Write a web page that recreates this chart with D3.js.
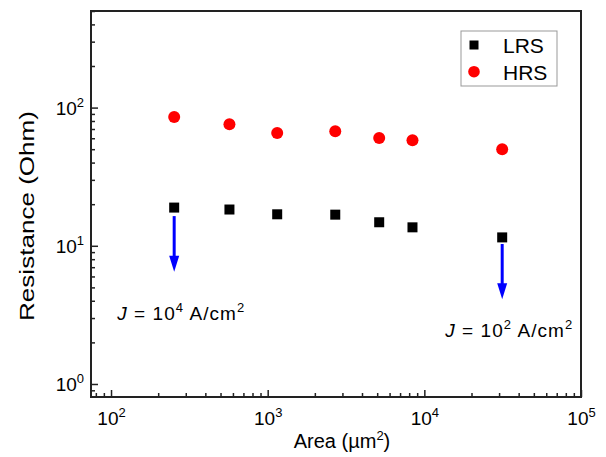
<!DOCTYPE html>
<html>
<head>
<meta charset="utf-8">
<script src="https://cdn.jsdelivr.net/npm/d3@7"></script>
<style>
  body { margin: 0; background: #fff; }
  svg { display: block; font-family: "Liberation Sans", Arial, sans-serif; }
</style>
</head>
<body>
<script>
// data
const areas = [253, 570, 1150, 2700, 5150, 8400, 31400];
const lrs = [18.9, 18.3, 16.9, 16.8, 14.8, 13.6, 11.5];
const hrs = [85.5, 75.7, 65.5, 67.4, 60.3, 58.0, 50.0];
const seriesNames = ["LRS", "HRS"];
const xMajorTicks = [1e2, 1e3, 1e4, 1e5];
const yMajorTicks = [1e0, 1e1, 1e2];
// current density annotations: arrow from/to resistance at a given area
const arrows = [
  { area: 253, from: 16.4, to: 6.5, label: "4" },
  { area: 31400, from: 10.3, to: 4.1, label: "2" }
];

const width = 606, height = 457;
const margin = { top: 11, right: 25, bottom: 60, left: 91 };
const innerW = width - margin.left - margin.right;
const innerH = height - margin.top - margin.bottom;

const svg = d3.select("body").append("svg")
  .attr("width", width)
  .attr("height", height);

const g = svg.append("g")
  .attr("transform", `translate(${margin.left},${margin.top})`);

const x = d3.scaleLog().domain([74.5, 1e5]).range([0, innerW]);
const y = d3.scaleLog().domain([0.805, 500]).range([innerH, 0]);

function minorTicks(lo, hi) {
  const out = [];
  for (let p = lo; p < hi; p++) {
    for (let m = 2; m <= 9; m++) out.push(m * Math.pow(10, p));
  }
  return out;
}
const xMinor = minorTicks(1, 5).filter(v => v >= x.domain()[0] && v <= x.domain()[1]);
const yMinor = minorTicks(-1, 3).filter(v => v >= y.domain()[0] && v <= y.domain()[1]);

// minor ticks
g.append("g")
  .attr("transform", `translate(0,${innerH})`)
  .call(d3.axisBottom(x).tickValues(xMinor).tickSize(-4).tickFormat(""))
  .call(s => s.select(".domain").remove());
g.append("g")
  .call(d3.axisLeft(y).tickValues(yMinor).tickSize(-4).tickFormat(""))
  .call(s => s.select(".domain").remove());

// major ticks with 10^n labels
const xAxis = g.append("g")
  .attr("transform", `translate(0,${innerH})`)
  .call(d3.axisBottom(x).tickValues(xMajorTicks).tickSize(-7).tickFormat(""))
  .call(s => s.select(".domain").remove());
const yAxis = g.append("g")
  .call(d3.axisLeft(y).tickValues(yMajorTicks).tickSize(-7).tickPadding(7).tickFormat(""))
  .call(s => s.select(".domain").remove());

function powLabel(sel) {
  sel.each(function (d) {
    const t = d3.select(this);
    t.text(null);
    t.append("tspan").text("10");
    t.append("tspan").attr("dy", -8).attr("font-size", 13).text(Math.round(Math.log10(d)));
  });
}
xAxis.selectAll(".tick text")
  .attr("font-size", 19).attr("fill", "#000").attr("font-family", null)
  .attr("dy", 0).attr("y", 28)
  .call(powLabel);
yAxis.selectAll(".tick text")
  .attr("font-size", 19).attr("fill", "#000").attr("font-family", null)
  .attr("dy", 7)
  .call(powLabel);

g.selectAll(".tick line").attr("stroke", "#222").attr("stroke-width", 1.5);

// frame
g.append("rect")
  .attr("width", innerW)
  .attr("height", innerH)
  .attr("fill", "none")
  .attr("stroke", "#222")
  .attr("stroke-width", 2);

// arrows
g.selectAll(".arrow")
  .data(arrows)
  .enter().append("line")
  .attr("class", "arrow")
  .attr("x1", d => x(d.area))
  .attr("x2", d => x(d.area))
  .attr("y1", d => y(d.from))
  .attr("y2", d => y(d.to) - 14)
  .attr("stroke", "#0000ff")
  .attr("stroke-width", 3);
g.selectAll(".arrowhead")
  .data(arrows)
  .enter().append("path")
  .attr("class", "arrowhead")
  .attr("d", d => `M${x(d.area) - 5},${y(d.to) - 16} L${x(d.area) + 5},${y(d.to) - 16} L${x(d.area)},${y(d.to)} Z`)
  .attr("fill", "#0000ff");

// annotation texts
const notePos = [{ dx: -57, dy: 48 }, { dx: -57, dy: 38 }];
g.selectAll(".note")
  .data(arrows)
  .enter().append("text")
  .attr("class", "note")
  .attr("x", (d, i) => x(d.area) + notePos[i].dx)
  .attr("y", (d, i) => y(d.to) + notePos[i].dy)
  .attr("font-size", 19)
  .attr("textLength", 127)
  .attr("lengthAdjust", "spacing")
  .each(function (d) {
    const t = d3.select(this);
    t.append("tspan").attr("font-style", "italic").text("J");
    t.append("tspan").text(" = 10");
    t.append("tspan").attr("dy", -8).attr("font-size", 13).text(d.label);
    t.append("tspan").attr("dy", 8).text(" A/cm");
    t.append("tspan").attr("dy", -8).attr("font-size", 13).text("2");
  });

// data points
g.selectAll(".lrs")
  .data(areas.map((a, i) => [a, lrs[i]]))
  .enter().append("rect")
  .attr("class", "lrs")
  .attr("x", d => x(d[0]) - 5)
  .attr("y", d => y(d[1]) - 5)
  .attr("width", 10).attr("height", 10)
  .attr("fill", "#000");

g.selectAll(".hrs")
  .data(areas.map((a, i) => [a, hrs[i]]))
  .enter().append("circle")
  .attr("class", "hrs")
  .attr("cx", d => x(d[0]))
  .attr("cy", d => y(d[1]))
  .attr("r", 6)
  .attr("fill", "#ff0000");

// legend
const legend = svg.append("g").attr("transform", "translate(461,31)");
legend.append("rect")
  .attr("width", 96).attr("height", 55)
  .attr("fill", "#fff").attr("stroke", "#999").attr("stroke-width", 1);
legend.append("rect")
  .attr("x", 8.5).attr("y", 9.5).attr("width", 9).attr("height", 9).attr("fill", "#000");
legend.append("circle")
  .attr("cx", 13).attr("cy", 40.7).attr("r", 5.8).attr("fill", "#ff0000");
legend.selectAll(".legtext")
  .data(seriesNames)
  .enter().append("text")
  .attr("x", 42)
  .attr("y", (d, i) => 21.5 + i * 27)
  .attr("font-size", 21)
  .text(d => d);

// axis titles
const xt = svg.append("text")
  .attr("x", 342)
  .attr("y", 448)
  .attr("text-anchor", "middle")
  .attr("font-size", 20);
xt.append("tspan").text("Area (\u00b5m");
xt.append("tspan").attr("dy", -8).attr("font-size", 13).text("2");
xt.append("tspan").attr("dy", 8).text(")");

svg.append("text")
  .attr("transform", "translate(34,216) rotate(-90)")
  .attr("text-anchor", "middle")
  .attr("font-size", 21)
  .attr("textLength", 210)
  .attr("lengthAdjust", "spacingAndGlyphs")
  .text("Resistance (Ohm)");
</script>
</body>
</html>
